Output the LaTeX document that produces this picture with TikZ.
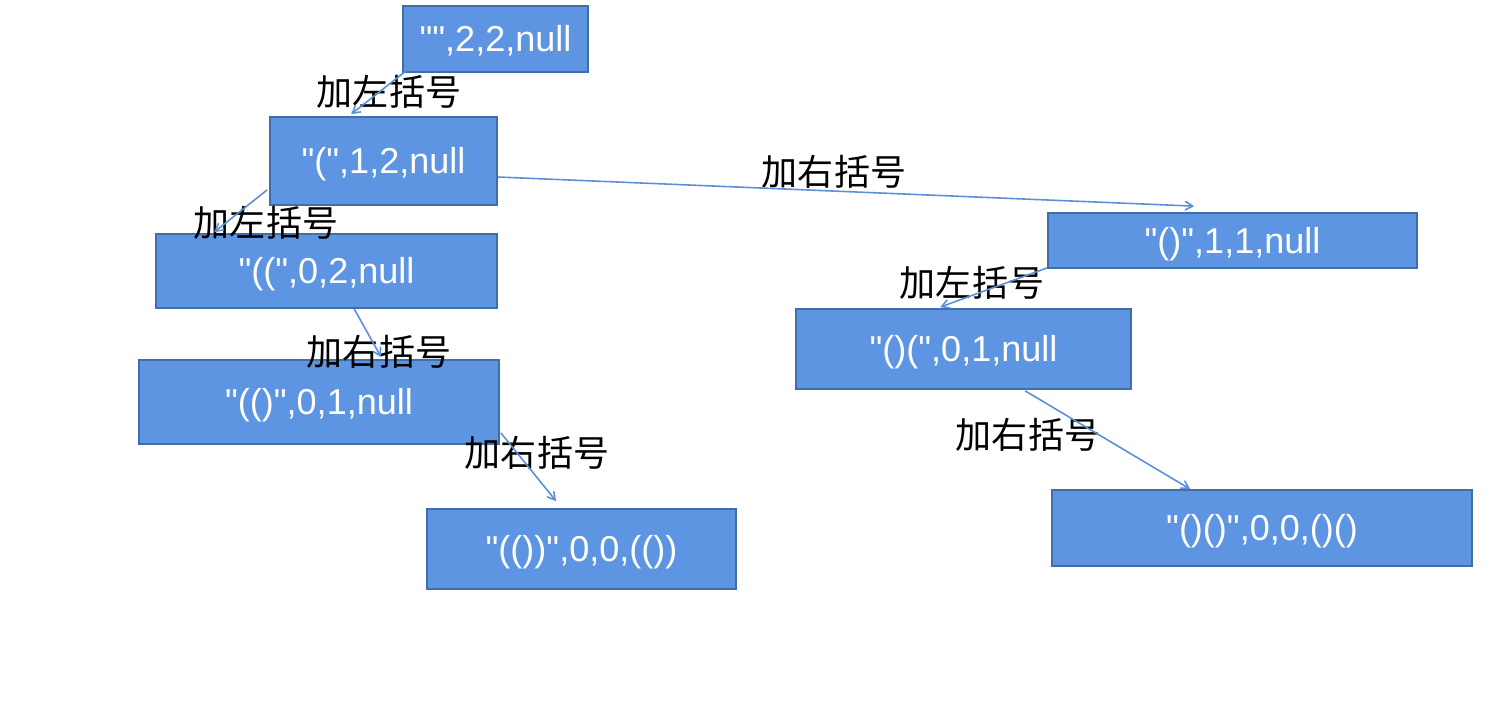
\documentclass[tikz,border=0pt]{standalone}
\usepackage{fontspec}
\setmainfont{Liberation Sans}[Ligatures=TeXOff]
\newfontfamily\cjk{Noto Sans CJK SC}
\usetikzlibrary{calc}
\usetikzlibrary{arrows}
\definecolor{boxfill}{RGB}{94,149,226}
\definecolor{boxline}{RGB}{64,110,170}
\definecolor{edgeblue}{RGB}{91,143,216}
\tikzset{
 state/.style={draw=boxline, fill=boxfill, line width=1pt, text=white, inner sep=0pt,
  font=\fontsize{20.5}{24}\selectfont, text height=14.7pt, text depth=0pt},
 op/.style={inner sep=0pt, font=\cjk\fontsize{20.5}{24}\selectfont},
 edge/.style={edgeblue, line width=0.9pt, ->, >=angle 60}
}
\begin{document}
\begin{tikzpicture} [x=0.02cm, y=-0.02cm]
\useasboundingbox (0,0) rectangle (1503,721);
\node[state, minimum width=3.7cm, minimum height=1.32cm] (n0) at (495.5,39) {"",2,2,null};
\node[state, minimum width=4.54cm, minimum height=1.76cm] (n1) at (383.5,161) {"(",1,2,null};
\node[state, minimum width=6.82cm, minimum height=1.48cm] (n2) at (326.5,271) {"((",0,2,null};
\node[state, minimum width=7.2cm, minimum height=1.68cm] (n3) at (319,402) {"(()",0,1,null};
\node[state, minimum width=6.18cm, minimum height=1.6cm] (n4) at (581.5,549) {"(())",0,0,(())};
\node[state, minimum width=7.38cm, minimum height=1.1cm] (n5) at (1232.5,240.5) {"()",1,1,null};
\node[state, minimum width=6.7cm, minimum height=1.6cm] (n6) at (963.5,349) {"()(",0,1,null};
\node[state, minimum width=8.4cm, minimum height=1.52cm] (n7) at (1262,528) {"()()",0,0,()()};
\node[op] (a0) at (389,92) {加左括号};
\node[op] (a1) at (834,172) {加右括号};
\node[op] (a2) at (266,223) {加左括号};
\node[op] (a3) at (379,352) {加右括号};
\node[op] (a4) at (537,453) {加右括号};
\node[op] (a5) at (972,283) {加左括号};
\node[op] (a6) at (1028,435) {加右括号};
\draw[edge] ($(n0.south west)+(4,-2)$) -- ($(n1.north west)+(82,-2)$);
\draw[edge] ($(n1.east)+(0,16)$) -- ($(n5.north west)+(147,-6)$);
\draw[edge] ($(n1.south west)+(-2,-16)$) -- ($(n2.north west)+(59,-1)$);
\draw[edge] ($(n2.south west)+(199,0)$) -- ($(n3.north west)+(243,-2)$);
\draw[edge] ($(n3.south east)+(1,-12)$) -- ($(n4.north west)+(130,-7)$);
\draw[edge] ($(n5.south west)+(0,-1)$) -- ($(n6.north west)+(145,-1)$);
\draw[edge] ($(n6.south west)+(230,1)$) -- ($(n7.north west)+(139,0)$);
\end{tikzpicture}
\end{document}
